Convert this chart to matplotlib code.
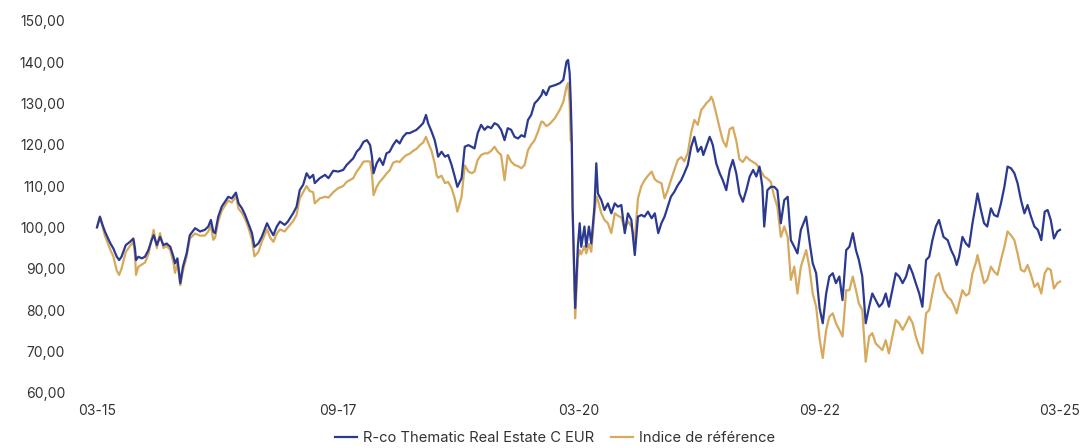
import matplotlib
matplotlib.use("Agg")
import matplotlib.pyplot as plt
import matplotlib.dates as mdates
from matplotlib.ticker import FixedLocator, FuncFormatter
import pandas as pd

dates = [
"2015-03-31","2015-04-11","2015-04-21","2015-04-30","2015-05-12","2015-05-21","2015-06-01","2015-06-14","2015-06-23","2015-07-02",
"2015-07-18","2015-08-03","2015-08-16","2015-08-22","2015-08-26","2015-09-04","2015-09-17","2015-09-29","2015-10-12","2015-10-24",
"2015-11-01","2015-11-13","2015-11-25","2015-12-08","2015-12-20","2016-01-03","2016-01-15","2016-01-21","2016-01-30","2016-02-10",
"2016-02-20","2016-03-05","2016-03-17","2016-04-06","2016-04-25","2016-05-13","2016-05-26","2016-06-05","2016-06-14","2016-06-21",
"2016-07-03","2016-07-16","2016-08-10","2016-08-23","2016-09-08","2016-09-18","2016-10-01","2016-10-13","2016-10-25","2016-11-08",
"2016-11-17","2016-12-02","2016-12-15","2017-01-04","2017-01-16","2017-01-28","2017-02-10","2017-02-22","2017-03-12","2017-03-24",
"2017-04-13","2017-04-26","2017-05-08","2017-05-21","2017-06-03","2017-06-15","2017-06-28","2017-07-04","2017-07-23","2017-08-12",
"2017-08-25","2017-09-12","2017-10-01","2017-10-20","2017-11-02","2017-11-27","2017-12-10","2017-12-22","2018-01-05","2018-01-18",
"2018-01-30","2018-02-06","2018-02-12","2018-02-24","2018-03-07","2018-03-20","2018-04-02","2018-04-14","2018-04-27","2018-05-10",
"2018-05-22","2018-06-04","2018-06-17","2018-06-29","2018-07-12","2018-07-25","2018-08-07","2018-08-19","2018-08-30","2018-09-07",
"2018-09-20","2018-10-02","2018-10-09","2018-10-15","2018-10-28","2018-11-10","2018-11-22","2018-12-05","2018-12-17","2018-12-27",
"2019-01-12","2019-01-24","2019-02-07","2019-02-19","2019-03-02","2019-03-14","2019-03-27","2019-04-09","2019-04-21","2019-05-04",
"2019-05-17","2019-05-29","2019-06-11","2019-06-24","2019-07-06","2019-07-19","2019-08-01","2019-08-14","2019-08-27","2019-09-08",
"2019-09-21","2019-10-03","2019-10-16","2019-10-28","2019-11-11","2019-11-17","2019-11-29","2019-12-12","2020-01-01","2020-01-20",
"2020-02-02","2020-02-14","2020-02-20","2020-02-26","2020-03-01","2020-03-05","2020-03-08","2020-03-13","2020-03-18","2020-03-23",
"2020-03-28","2020-04-04","2020-04-10","2020-04-22","2020-04-29","2020-05-09","2020-05-18","2020-05-30","2020-06-06","2020-06-12",
"2020-06-25","2020-07-07","2020-07-20","2020-08-02","2020-08-15","2020-08-27","2020-09-09","2020-09-22","2020-10-04","2020-10-17",
"2020-10-30","2020-11-11","2020-11-24","2020-12-06","2020-12-19","2021-01-02","2021-01-14","2021-01-27","2021-02-08","2021-02-20",
"2021-03-04","2021-03-16","2021-03-29","2021-04-11","2021-04-24","2021-05-06","2021-05-19","2021-06-01","2021-06-13","2021-06-26",
"2021-07-09","2021-07-17","2021-07-28","2021-08-10","2021-08-16","2021-08-22","2021-09-04","2021-09-17","2021-09-29","2021-10-12",
"2021-10-25","2021-11-06","2021-11-19","2021-12-01","2021-12-14","2021-12-27","2022-01-09","2022-01-22","2022-02-03","2022-02-15",
"2022-02-26","2022-03-05","2022-03-17","2022-03-30","2022-04-12","2022-04-24","2022-05-07","2022-05-20","2022-06-02","2022-06-14",
"2022-06-27","2022-07-09","2022-07-22","2022-08-11","2022-08-23","2022-09-05","2022-09-18","2022-10-01","2022-10-13","2022-10-26",
"2022-11-07","2022-11-20","2022-12-02","2022-12-15","2022-12-27","2023-01-10","2023-01-22","2023-02-04","2023-02-16","2023-02-27",
"2023-03-12","2023-03-25","2023-04-07","2023-04-19","2023-05-02","2023-05-15","2023-05-27","2023-06-09","2023-06-21","2023-07-04",
"2023-07-17","2023-07-30","2023-08-12","2023-08-25","2023-09-06","2023-09-19","2023-10-01","2023-10-14","2023-10-26","2023-11-09",
"2023-11-21","2023-12-03","2023-12-16","2023-12-28","2024-01-14","2024-01-30","2024-02-12","2024-02-24","2024-03-04","2024-03-13",
"2024-03-26","2024-04-08","2024-04-20","2024-05-03","2024-05-16","2024-05-22","2024-06-04","2024-06-16","2024-06-28","2024-07-12",
"2024-07-24","2024-08-06","2024-08-19","2024-09-01","2024-09-13","2024-09-26","2024-10-09","2024-10-21","2024-11-03","2024-11-16",
"2024-11-28","2024-12-11","2024-12-24","2025-01-06","2025-01-19","2025-02-01","2025-02-12","2025-02-24","2025-03-08","2025-03-21",
"2025-03-31",
]

fund = [
100.0,102.6,100.6,99.0,97.3,96.1,94.9,92.9,92.1,92.9,
95.7,96.5,97.3,94.9,92.1,92.9,92.5,92.9,94.5,96.9,
98.1,95.7,97.7,95.7,96.1,95.3,92.9,91.3,92.5,86.5,
90.5,93.7,98.1,99.8,99.0,99.4,100.2,101.8,99.0,98.6,
102.6,105.0,107.4,107.0,108.4,105.8,104.6,103.0,101.0,98.6,
95.3,96.1,97.7,101.0,99.4,98.1,100.2,101.4,100.6,101.4,
103.4,105.0,109.0,110.3,113.1,111.9,112.7,110.7,111.9,112.7,
111.9,113.7,113.5,113.9,115.1,116.7,118.3,119.1,120.7,121.1,
119.9,117.1,113.1,115.5,116.7,115.1,117.9,118.3,119.9,121.1,
120.3,121.9,122.8,122.8,123.2,123.6,124.4,125.2,127.2,125.2,
123.2,121.1,119.1,117.1,118.3,117.1,117.5,115.1,112.3,109.8,
111.9,119.5,119.9,119.5,119.1,122.8,124.8,123.6,124.4,124.0,
125.2,124.8,123.6,121.1,124.0,123.6,121.9,121.5,122.3,121.9,
126.0,127.2,130.0,130.8,132.0,133.2,132.0,134.0,134.4,134.9,
135.7,140.1,140.5,137.3,130.8,121.1,105.0,92.9,80.5,88.0,
95.3,101.0,95.3,100.2,95.3,100.2,96.1,105.0,115.5,108.2,
106.6,104.2,105.8,103.4,105.8,105.0,105.4,98.6,103.4,101.8,
93.3,102.6,103.0,102.6,103.8,102.2,103.4,98.6,101.0,102.6,
105.0,107.4,108.6,110.2,111.4,113.1,115.1,119.5,121.9,118.3,
119.5,117.5,119.5,121.9,121.0,119.9,115.5,113.1,111.4,109.0,
113.9,116.3,113.1,108.2,106.2,109.0,112.3,113.9,112.3,114.7,
109.8,100.2,109.0,109.8,109.8,109.0,101.0,106.6,107.4,96.9,
95.3,93.7,99.4,102.6,96.9,91.3,88.9,80.5,76.8,84.0,
88.1,88.9,86.5,88.1,82.4,94.5,95.3,98.6,94.5,92.1,
88.1,76.8,80.8,84.0,82.4,80.8,81.6,84.0,80.8,84.8,
88.9,88.1,86.5,88.1,90.9,88.9,86.5,84.0,80.8,92.1,
92.9,96.9,100.2,101.8,97.7,96.9,94.5,92.9,90.9,92.9,
97.7,96.1,95.3,101.0,105.8,108.2,104.2,101.0,100.2,104.6,
103.0,102.6,105.8,109.8,114.7,114.3,113.1,110.7,106.6,103.4,
105.4,102.6,100.2,99.4,96.9,103.8,104.2,101.8,97.3,99.0,
99.4,
]

index = [
100.0,102.3,100.2,98.0,96.0,94.5,93.0,89.5,88.5,90.0,
94.0,95.5,96.5,93.5,88.5,90.5,91.0,91.5,93.5,97.0,
99.4,95.0,98.6,95.0,95.5,94.5,91.5,89.0,91.5,86.0,
89.5,93.0,97.3,98.5,98.0,98.0,99.0,100.5,97.0,97.5,
101.5,104.0,106.5,106.0,107.5,104.5,103.5,102.0,100.0,97.0,
93.0,94.0,96.5,99.5,97.5,96.5,98.5,99.5,99.0,100.0,
101.5,103.0,107.0,108.5,110.0,108.8,108.5,105.8,107.0,107.4,
107.2,108.5,109.5,110.0,111.0,111.9,113.5,114.5,115.9,116.0,
115.9,113.0,107.8,109.8,111.0,111.9,113.0,113.8,115.6,116.0,
115.8,116.8,117.5,117.8,118.5,119.0,119.9,120.5,121.9,120.5,
118.5,115.5,112.7,112.0,112.5,110.7,111.0,109.5,107.0,103.8,
107.4,115.0,113.5,113.1,113.5,116.3,117.5,117.9,117.9,118.5,
119.5,118.3,117.5,111.4,117.5,115.9,115.1,114.8,114.3,115.1,
118.7,120.0,121.1,123.0,125.6,125.5,124.5,125.0,126.4,128.5,
130.4,134.0,134.9,130.0,121.0,120.5,104.0,90.0,78.0,85.0,
92.5,94.5,93.5,95.5,93.7,96.0,94.1,103.4,107.5,106.6,
103.4,101.8,101.0,98.6,103.4,102.8,102.4,99.5,101.5,100.2,
97.0,107.0,110.0,111.4,112.5,113.5,111.6,111.0,110.7,107.0,
109.0,111.4,113.9,116.3,117.0,116.0,118.0,123.0,126.0,124.8,
128.4,129.0,130.0,130.8,131.6,130.8,127.5,124.0,121.0,119.5,
123.8,124.2,121.0,116.5,115.8,117.1,116.3,115.8,115.3,114.3,
113.0,112.3,111.8,111.0,107.4,105.0,97.7,100.2,97.7,87.3,
90.5,84.0,90.5,94.5,90.5,84.0,80.8,73.0,68.4,75.2,
78.4,79.2,76.8,75.2,73.6,84.8,84.8,88.1,84.8,81.6,
80.0,67.5,73.6,74.4,71.9,71.1,70.3,72.7,69.5,73.6,
77.6,76.8,75.2,76.8,78.4,76.8,73.6,71.1,69.5,79.2,
80.0,84.0,88.1,88.9,84.8,83.2,82.4,80.8,79.2,81.6,
84.8,83.5,84.0,88.9,91.5,93.3,89.7,86.5,87.3,90.5,
89.3,88.5,92.1,95.3,99.0,98.1,96.9,93.7,89.7,89.3,
90.9,88.5,85.6,86.5,84.0,88.9,90.1,89.7,85.2,86.5,
86.9,
]

tick_dates = ["2015-03-31", "2017-09-30", "2020-03-31", "2022-09-30", "2025-03-31"]
tick_labels = ["03-15", "09-17", "03-20", "09-22", "03-25"]
y_ticks = [60, 70, 80, 90, 100, 110, 120, 130, 140, 150]

series_names = ["R-co Thematic Real Estate C EUR", "Indice de référence"]
colors = ["#2B3990", "#D6A95C"]

plt.rcParams["font.family"] = ["Inter", "DejaVu Sans"]

x = pd.to_datetime(dates)
tx = pd.to_datetime(tick_dates)

fig = plt.figure(figsize=(10.82, 4.48), dpi=100)
ax = fig.add_axes([97 / 1082, 55.3 / 448, 963 / 1082, 372 / 448])

ax.plot(x, index, color=colors[1], lw=1.6, label=series_names[1], clip_on=False, zorder=2)
ax.plot(x, fund, color=colors[0], lw=1.6, label=series_names[0], clip_on=False, zorder=3)

ax.set_xlim(tx[0], tx[-1])
ax.set_ylim(60, 150)
ax.xaxis.set_major_locator(FixedLocator(mdates.date2num(tx)))
ax.set_xticklabels(tick_labels)
ax.yaxis.set_major_locator(FixedLocator(y_ticks))
ax.yaxis.set_major_formatter(FuncFormatter(lambda v, p: f"{v:.2f}".replace(".", ",")))

for s in ax.spines.values():
    s.set_visible(False)
ax.tick_params(axis="both", length=0, labelsize=10, colors="#333333")
ax.tick_params(axis="y", pad=23)
ax.tick_params(axis="x", pad=8)

h, l = ax.get_legend_handles_labels()
fig.legend(h[::-1], l[::-1], loc="center", bbox_to_anchor=(555 / 1082, 10 / 448), ncol=2, frameon=False,
           fontsize=10.6, handlelength=1.5, columnspacing=1.1, handletextpad=0.45,
           labelcolor="#333333")

fig.savefig("out.png", dpi=100)
